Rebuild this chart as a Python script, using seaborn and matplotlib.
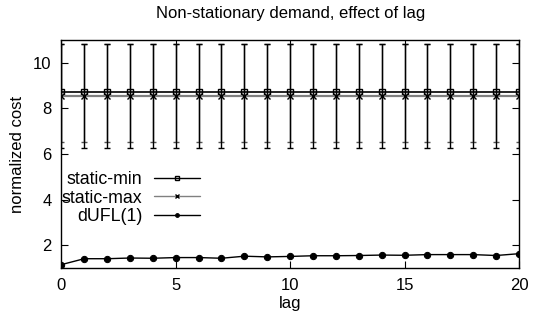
import matplotlib
matplotlib.use('Agg')
import matplotlib.pyplot as plt
import seaborn as sns
import pandas as pd
import numpy as np

# data
lags = list(range(21))
static_min = [8.71] * 21
static_min_lo = [6.28] * 21
static_min_hi = [10.82] * 21
static_max = [8.53] * 21
static_max_lo = [6.52] * 21
static_max_hi = [10.82] * 21
dufl = [1.16, 1.42, 1.42, 1.45, 1.44, 1.47, 1.47, 1.44, 1.53, 1.50, 1.52,
        1.55, 1.55, 1.56, 1.58, 1.57, 1.60, 1.60, 1.60, 1.56, 1.64]

sns.set_style('ticks')
plt.rcParams['font.family'] = ['Liberation Sans', 'DejaVu Sans']
plt.rcParams.update({'text.color': 'black', 'axes.labelcolor': 'black',
                     'xtick.color': 'black', 'ytick.color': 'black'})

fig = plt.figure(figsize=(5.38, 3.24), dpi=100)
ax = fig.add_axes([61.3 / 538, (324 - 268.3) / 324, (519 - 61.3) / 538, (268.3 - 40) / 324])

# error bars (static strategies)
ax.errorbar(lags, static_max, yerr=[np.subtract(static_max, static_max_lo), np.subtract(static_max_hi, static_max)],
            fmt='none', ecolor='#555555', elinewidth=1.0, capsize=2.5, capthick=1.0, zorder=2)
ax.errorbar(lags, static_min, yerr=[np.subtract(static_min, static_min_lo), np.subtract(static_min_hi, static_min)],
            fmt='none', ecolor='black', elinewidth=1.0, capsize=2.5, capthick=1.0, zorder=2)

df = pd.DataFrame({'lag': lags, 'static-min': static_min, 'static-max': static_max, 'dUFL(1)': dufl})

sns.lineplot(data=df, x='lag', y='static-min', ax=ax, color='black', lw=1.2, marker='s',
             markersize=4.5, markerfacecolor='none', markeredgecolor='black', markeredgewidth=1.0,
             label='static-min', zorder=3)
sns.lineplot(data=df, x='lag', y='static-max', ax=ax, color='#808080', lw=1.6, marker='x',
             markersize=4.5, markeredgecolor='black', markeredgewidth=1.0,
             label='static-max', zorder=3)
sns.lineplot(data=df, x='lag', y='dUFL(1)', ax=ax, color='black', lw=1.0, marker='o',
             markersize=4.5, markeredgecolor='black', label='dUFL(1)', zorder=4)

ax.set_xlim(0, 20)
ax.set_ylim(1, 11)
ax.set_xticks([0, 5, 10, 15, 20])
ax.set_yticks([2, 4, 6, 8, 10])
ax.tick_params(direction='in', length=5, width=0.8, top=True, right=True, labelsize=12, pad=7)
for s in ax.spines.values():
    s.set_linewidth(1.0)
    s.set_color('black')

ax.set_xlabel('lag', fontsize=12, labelpad=2)
ax.set_ylabel('normalized cost', fontsize=12, labelpad=6)
ax.set_title('Non-stationary demand, effect of lag', fontsize=12, pad=16)

leg = ax.legend(loc='upper right', bbox_to_anchor=(0.303, 0.425), frameon=False, markerfirst=False,
                handlelength=2.6, handletextpad=0.65, labelspacing=0.08, fontsize=12.8, borderpad=0,
                borderaxespad=0, markerscale=0.6)
for h in leg.get_lines():
    h.set_linewidth(1.0)

fig.savefig('out.png', dpi=100)
